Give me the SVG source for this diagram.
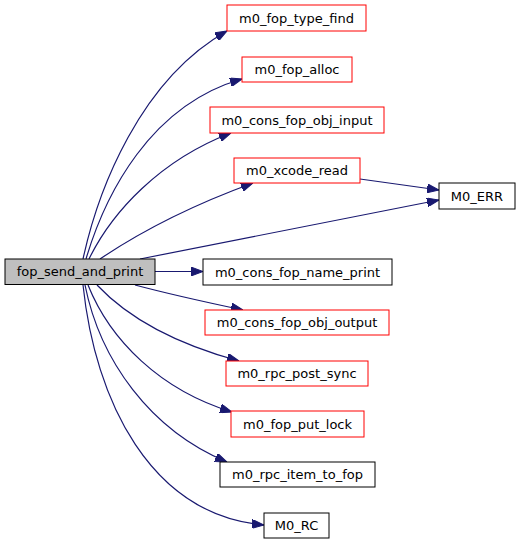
<svg xmlns="http://www.w3.org/2000/svg" width="520" height="544" viewBox="0 0 520 544">
<defs>
<style>
.n rect{fill:#fff;stroke:#000;stroke-width:1}
.n.r rect{stroke:#ff0000}
.n.m rect{fill:#bfbfbf}
.n text{font-family:"DejaVu Sans",sans-serif;font-size:13px;fill:#000;text-anchor:middle}
.e path{fill:none;stroke:#191970;stroke-width:1.2;marker-end:url(#a)}
</style>
<marker id="a" viewBox="0 0 12 9" refX="12" refY="4.5" markerWidth="12" markerHeight="9" markerUnits="userSpaceOnUse" orient="auto">
<path d="M0,0 L12,4.5 L0,9 Z" fill="#191970" stroke="#191970"/>
</marker>
</defs>
<rect width="520" height="544" fill="#fff"/>
<g id="edges" class="e">
<path d="M83,259 C98,190 140,80 227,31"/>
<path d="M86,259 C105,195 150,105 242,79"/>
<path d="M89,259 C112,212 160,160 231,133"/>
<path d="M100,259 C140,232 190,206 253,183"/>
<path d="M360,179 L439,190"/>
<path d="M140,259 L439,200"/>
<path d="M155,271.5 L203,271.5"/>
<path d="M135,285 C165,293 205,302 243,310"/>
<path d="M97,285 C130,320 180,345 239,361"/>
<path d="M88,285 C110,340 160,390 232,412"/>
<path d="M85,285 C100,360 150,430 227,462"/>
<path d="M83,285 C95,400 150,515 264,525"/>
</g>
<g id="fop_send_and_print" class="n m"><rect x="5" y="259" width="150" height="25.5"/><text x="80" y="276">fop_send_and_print</text></g>
<g id="m0_fop_type_find" class="n r"><rect x="227" y="5" width="139" height="26"/><text x="296.5" y="22.5">m0_fop_type_find</text></g>
<g id="m0_fop_alloc" class="n r"><rect x="242" y="57" width="110" height="25"/><text x="297" y="74">m0_fop_alloc</text></g>
<g id="m0_cons_fop_obj_input" class="n r"><rect x="210" y="107" width="174" height="26"/><text x="297" y="124.5">m0_cons_fop_obj_input</text></g>
<g id="m0_xcode_read" class="n r"><rect x="234" y="158" width="126" height="25"/><text x="297" y="175">m0_xcode_read</text></g>
<g id="M0_ERR" class="n"><rect x="439" y="183" width="76" height="26"/><text x="477" y="200.5">M0_ERR</text></g>
<g id="m0_cons_fop_name_print" class="n"><rect x="203" y="259" width="189" height="26"/><text x="297.5" y="276.5">m0_cons_fop_name_print</text></g>
<g id="m0_cons_fop_obj_output" class="n r"><rect x="205" y="310" width="184" height="25"/><text x="297" y="327">m0_cons_fop_obj_output</text></g>
<g id="m0_rpc_post_sync" class="n r"><rect x="226" y="361" width="142" height="25"/><text x="297" y="378">m0_rpc_post_sync</text></g>
<g id="m0_fop_put_lock" class="n r"><rect x="231" y="411" width="133" height="26"/><text x="297.5" y="428.5">m0_fop_put_lock</text></g>
<g id="m0_rpc_item_to_fop" class="n"><rect x="220" y="462" width="155" height="25"/><text x="297.5" y="479">m0_rpc_item_to_fop</text></g>
<g id="M0_RC" class="n"><rect x="264" y="513" width="65" height="25"/><text x="296.5" y="530">M0_RC</text></g>
</svg>
